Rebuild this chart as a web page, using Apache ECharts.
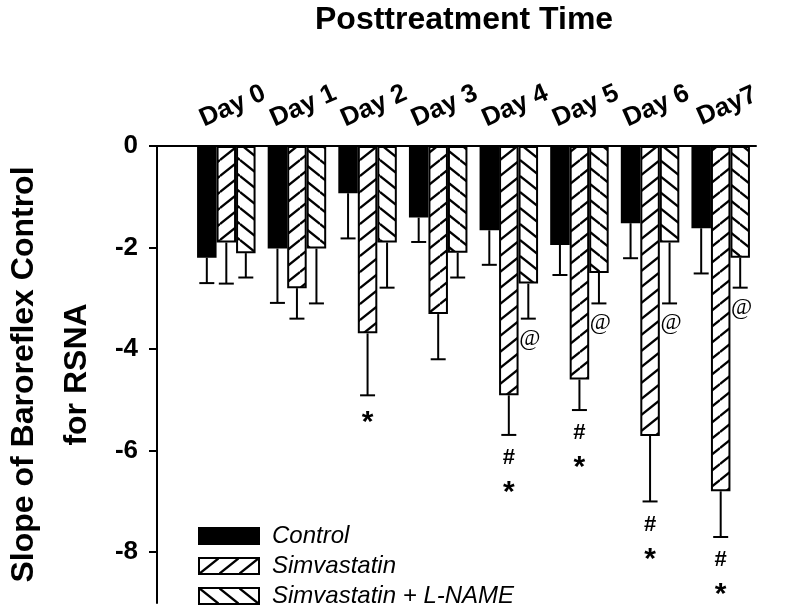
<!DOCTYPE html>
<html><head><meta charset="utf-8">
<script src="https://cdn.jsdelivr.net/npm/echarts@6/dist/echarts.min.js"></script>
<style>html,body{margin:0;padding:0;background:#fff}#c{width:800px;height:616px}</style>
</head><body><div id="c"></div>
<script>
const categories = ['Day 0', 'Day 1', 'Day 2', 'Day 3', 'Day 4', 'Day 5', 'Day 6', 'Day7'];
const seriesNames = ['Control', 'Simvastatin', 'Simvastatin + L-NAME'];
const controlMean = [-2.2, -2.02, -0.93, -1.41, -1.66, -1.95, -1.52, -1.62];
const controlSE   = [0.5, 1.07, 0.89, 0.48, 0.68, 0.59, 0.69, 0.89];
const simMean     = [-1.9, -2.8, -3.69, -3.31, -4.91, -4.6, -5.71, -6.8];
const simSE       = [0.81, 0.6, 1.22, 0.89, 0.78, 0.6, 1.29, 0.9];
const lnameMean   = [-2.11, -2.02, -1.9, -2.1, -2.71, -2.5, -1.9, -2.2];
const lnameSE     = [0.48, 1.08, 0.89, 0.49, 0.69, 0.6, 1.2, 0.59];
const controlMarks = ['', '', '', '', '', '', '', ''];
const simMarks     = ['', '', '*', '', '#*', '#*', '#*', '#*'];
const lnameMarks   = ['', '', '', '', '@', '@', '@', '@'];
const yTicks = [0, -2, -4, -6, -8];
const yMin = -9, yMax = 0;

const FONT = 'Liberation Sans';
const BAR_W = 19.5;

function hatch(dir) {
  const w = 20, h = 16;
  const c = document.createElement('canvas');
  c.width = w; c.height = h;
  const g = c.getContext('2d');
  g.fillStyle = '#fff'; g.fillRect(0, 0, w, h);
  g.strokeStyle = '#000'; g.lineWidth = 2.3;
  for (const k of [-1, 0, 1]) {
    g.beginPath();
    if (dir > 0) { g.moveTo(0, h + k * h); g.lineTo(w, k * h); }
    else { g.moveTo(0, k * h); g.lineTo(w, h + k * h); }
    g.stroke();
  }
  return { image: c, repeat: 'repeat' };
}

const fills = ['#000', hatch(1), hatch(-1)];
const means = [controlMean, simMean, lnameMean];
const ses = [controlSE, simSE, lnameSE];
const marks = [controlMarks, simMarks, lnameMarks];

function barSeries(k) {
  return {
    name: seriesNames[k], type: 'bar', xAxisIndex: 0, yAxisIndex: 0,
    barWidth: BAR_W, barGap: '0%',
    data: means[k],
    itemStyle: { color: fills[k], borderColor: '#000', borderWidth: 2 },
    emphasis: { disabled: true }
  };
}

function errSeries(k) {
  const mean = means[k], se = ses[k], mk = marks[k];
  return {
    name: 'err' + k, type: 'custom', xAxisIndex: 0, yAxisIndex: 0, z: 5,
    data: mean.map((m, i) => [i, m, m - se[i]]),
    renderItem: function (params, api) {
      const i = api.value(0), m = api.value(1), lo = api.value(2);
      const top = api.coord([i, m]), bot = api.coord([i, lo]);
      const cx = top[0] + (k - 1) * BAR_W;
      const children = [
        { type: 'line', shape: { x1: cx, y1: top[1], x2: cx, y2: bot[1] }, style: { stroke: '#000', lineWidth: 2 } },
        { type: 'line', shape: { x1: cx - 7.5, y1: bot[1], x2: cx + 7.5, y2: bot[1] }, style: { stroke: '#000', lineWidth: 2 } }
      ];
      const s = mk[params.dataIndex] || '';
      for (let j = 0; j < s.length; j++) {
        const ch = s[j];
        let off = 23 + 31 * j;
        let font = 'bold 22px ' + FONT;
        let dx = 0;
        if (ch === '*') { off += 4; font = 'bold 30px ' + FONT; }
        if (ch === '@') { off = 20; font = '23px Liberation Serif'; dx = 1.5; }
        children.push({ type: 'text', x: cx + dx, y: bot[1] + off,
          style: { text: ch, font: font, fill: '#000', align: 'center', verticalAlign: 'middle' } });
      }
      return { type: 'group', children: children };
    }
  };
}

const chart = echarts.init(document.getElementById('c'), null, { renderer: 'canvas' });
chart.setOption({
  animation: false,
  backgroundColor: '#fff',
  title: {
    text: 'Posttreatment Time', left: 315, top: 4, padding: 0,
    textStyle: { fontSize: 32, fontWeight: 'bold', fontFamily: FONT, color: '#000' }
  },
  legend: {
    data: seriesNames, orient: 'vertical', left: 198, top: 524, padding: 0,
    itemWidth: 60, itemHeight: 16, itemGap: 6, icon: 'rect', selectedMode: false,
    itemStyle: { borderColor: '#000', borderWidth: 2 },
    textStyle: { fontSize: 24, fontStyle: 'italic', fontFamily: FONT, color: '#000', lineHeight: 24, padding: [0, 0, 0, 8] }
  },
  grid: [
    { left: 191, right: 44, top: 146, bottom: 13, outerBoundsMode: 'none', containLabel: false },
    { left: 157, right: 44, top: 146, bottom: 13, outerBoundsMode: 'none', containLabel: false }
  ],
  xAxis: [
    {
      gridIndex: 0, type: 'category', data: categories, position: 'top',
      axisLine: { show: false }, axisTick: { show: false }, splitLine: { show: false },
      axisLabel: { interval: 0, rotate: 24, align: 'center', verticalAlign: 'middle', margin: 37,
        fontSize: 26, fontWeight: 'bold', fontFamily: FONT, color: '#000', padding: [0, 0, 0, 14] }
    },
    {
      gridIndex: 1, type: 'value', position: 'top', min: 0, max: 1,
      axisLine: { show: true, onZero: false, lineStyle: { color: '#000', width: 2 } },
      axisTick: { show: false }, axisLabel: { show: false }, splitLine: { show: false }
    }
  ],
  yAxis: [
    { gridIndex: 0, type: 'value', min: yMin, max: yMax, show: false, splitLine: { show: false } },
    {
      gridIndex: 1, type: 'value', min: yMin, max: yMax,
      axisLine: { show: true, lineStyle: { color: '#000', width: 2 } },
      axisTick: { show: true, length: 8, customValues: yTicks, lineStyle: { color: '#000', width: 2 } },
      axisLabel: { customValues: yTicks, margin: 19, fontSize: 26, fontWeight: 'bold', fontFamily: FONT, color: '#000' },
      splitLine: { show: false },
      name: 'Slope of Baroreflex Control\nfor RSNA', nameLocation: 'middle', nameGap: 53, nameRotate: 90,
      nameTextStyle: { fontSize: 32, fontWeight: 'bold', fontFamily: FONT, color: '#000', lineHeight: 53 }
    }
  ],
  series: [barSeries(0), barSeries(1), barSeries(2), errSeries(0), errSeries(1), errSeries(2)]
});
</script>
</body></html>
